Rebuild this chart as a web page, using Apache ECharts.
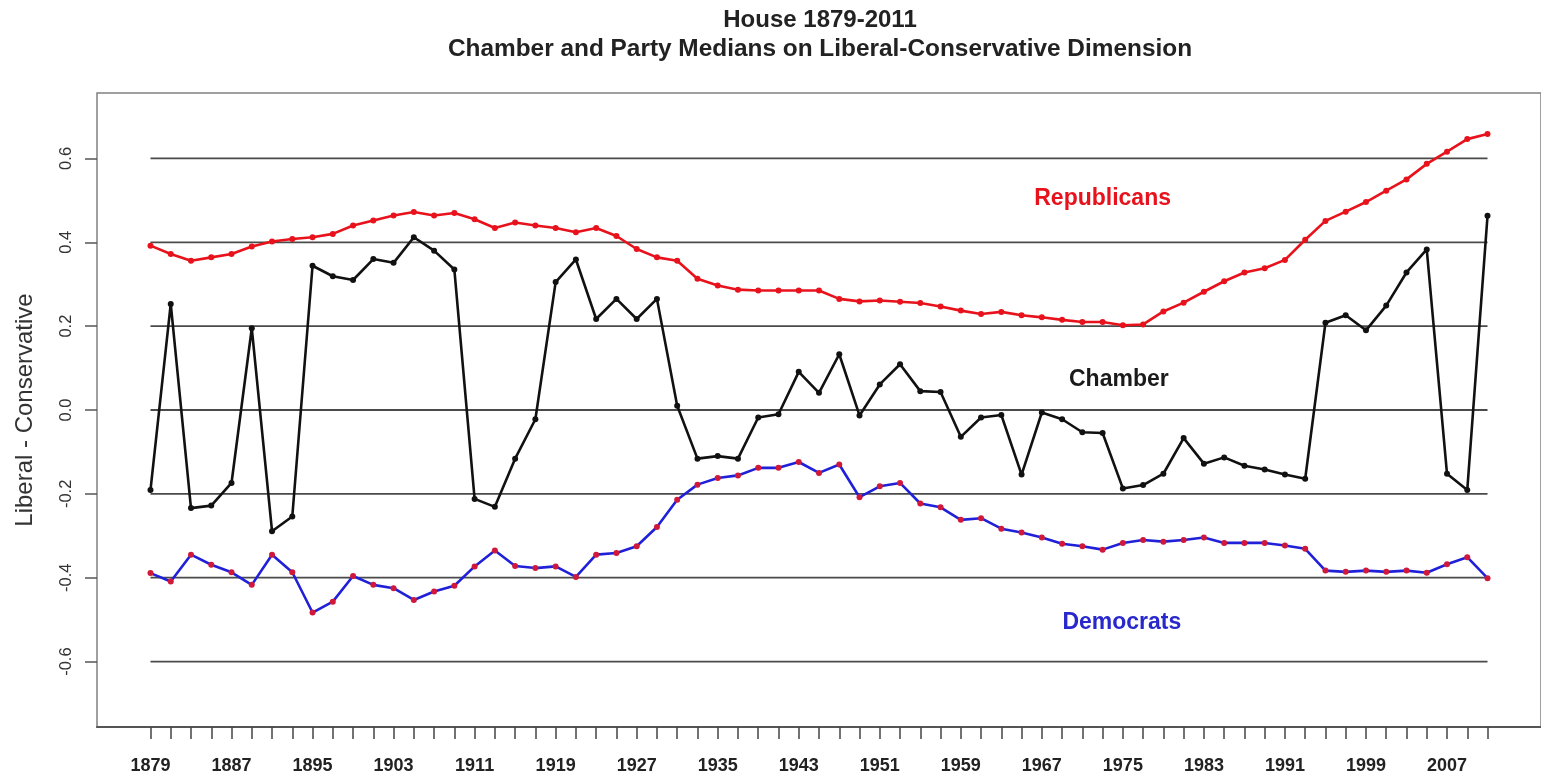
<!DOCTYPE html>
<html>
<head>
<meta charset="utf-8">
<script src="https://cdn.jsdelivr.net/npm/echarts@6/dist/echarts.min.js"></script>
<style>
html,body{margin:0;padding:0;background:#fff;}
#chart{width:1541px;height:777px;}
</style>
</head>
<body>
<div id="chart"></div>
<script>
// ---- Data ----
const years = [1879,1881,1883,1885,1887,1889,1891,1893,1895,1897,1899,1901,1903,1905,1907,1909,1911,1913,1915,1917,1919,1921,
  1923,1925,1927,1929,1931,1933,1935,1937,1939,1941,1943,1945,1947,1949,1951,1953,1955,1957,1959,1961,1963,
  1965,1967,1969,1971,1973,1975,1977,1979,1981,1983,1985,1987,1989,1991,1993,1995,1997,1999,2001,2003,2005,2007,2009,2011];

const chamber = [-0.191,0.253,-0.234,-0.228,-0.174,0.195,-0.289,-0.254,0.344,0.319,0.310,0.360,0.351,0.412,0.380,0.335,-0.212,-0.231,-0.116,-0.022,0.305,0.359,
  0.217,0.265,0.217,0.265,0.010,-0.116,-0.110,-0.116,-0.018,-0.010,0.091,0.041,0.133,-0.013,0.061,0.109,0.045,0.043,-0.064,-0.018,-0.012,
  -0.154,-0.006,-0.022,-0.053,-0.055,-0.187,-0.179,-0.152,-0.067,-0.128,-0.113,-0.133,-0.142,-0.154,-0.164,0.208,0.226,0.190,0.249,0.328,0.383,-0.152,-0.191,0.463];

const republicans = [0.392,0.372,0.356,0.364,0.372,0.390,0.402,0.408,0.412,0.420,0.440,0.452,0.464,0.472,0.464,0.470,0.455,0.434,0.447,0.440,0.434,0.424,
  0.434,0.415,0.384,0.364,0.356,0.313,0.297,0.287,0.285,0.285,0.285,0.285,0.265,0.259,0.261,0.258,0.255,0.247,0.237,0.229,0.234,
  0.226,0.221,0.215,0.210,0.210,0.202,0.204,0.235,0.256,0.282,0.307,0.328,0.338,0.358,0.406,0.451,0.473,0.496,0.523,0.550,0.587,0.616,0.646,0.658];

const democrats = [-0.389,-0.409,-0.345,-0.369,-0.387,-0.417,-0.345,-0.387,-0.483,-0.457,-0.396,-0.417,-0.425,-0.453,-0.433,-0.419,-0.373,-0.335,-0.372,-0.377,-0.373,-0.398,
  -0.345,-0.341,-0.325,-0.279,-0.214,-0.178,-0.162,-0.156,-0.138,-0.138,-0.124,-0.150,-0.130,-0.208,-0.182,-0.174,-0.223,-0.232,-0.262,-0.258,-0.283,
  -0.292,-0.304,-0.319,-0.325,-0.333,-0.317,-0.310,-0.314,-0.310,-0.304,-0.317,-0.317,-0.317,-0.323,-0.331,-0.383,-0.386,-0.383,-0.386,-0.383,-0.388,-0.368,-0.351,-0.401];

const xTickLabels = [1879,1887,1895,1903,1911,1919,1927,1935,1943,1951,1959,1967,1975,1983,1991,1999,2007];
const yTickValues = [-0.6,-0.4,-0.2,0,0.2,0.4,0.6];
const refLineValues = [-0.6,-0.4,-0.2,0,0.2,0.4,0.6];

const titleLine1 = 'House 1879-2011';
const titleLine2 = 'Chamber and Party Medians on Liberal-Conservative Dimension';
const yAxisTitle = 'Liberal - Conservative';

const seriesLabels = [
  {name: 'Republicans', year: 1973, value: 0.504},
  {name: 'Chamber', year: 1974.6, value: 0.073},
  {name: 'Democrats', year: 1974.9, value: -0.507}
];

// ---- Chart ----
const FONT = '"Liberation Sans", Arial, sans-serif';
const RED = '#e8121c';
const BLUE = '#2020d8';
const BLACK = '#111111';

const toPairs = arr => years.map((y, i) => [y, arr[i]]);

const refSeries = refLineValues.map(v => ({
  type: 'line',
  data: [[years[0], v], [years[years.length - 1], v]],
  symbol: 'none',
  silent: true,
  z: 1,
  lineStyle: {color: '#4a4a4a', width: 1.8},
  animation: false
}));

function labelPoint(lbl, color) {
  return {
    symbol: 'circle',
    symbolSize: 0,
    silent: true,
    data: [{coord: [lbl.year, lbl.value]}],
    label: {
      show: true,
      position: 'inside',
      formatter: lbl.name,
      color: color,
      fontFamily: FONT,
      fontWeight: 'bold',
      fontSize: 23
    }
  };
}

const chart = echarts.init(document.getElementById('chart'));
chart.setOption({
  backgroundColor: '#ffffff',
  animation: false,
  title: [
    {text: titleLine1, left: 815, textAlign: 'center', top: 3,
     textStyle: {fontFamily: FONT, fontWeight: 'bold', fontSize: 24, color: '#222'}},
    {text: titleLine2, left: 815, textAlign: 'center', top: 32,
     textStyle: {fontFamily: FONT, fontWeight: 'bold', fontSize: 24.4, color: '#222'}}
  ],
  grid: {
    left: 97, top: 93, right: -3, bottom: 50,
    show: true, borderColor: '#808080', borderWidth: 1.5,
    containLabel: false
  },
  xAxis: {
    type: 'value',
    min: 1873.72, max: 2016.28,
    splitLine: {show: false},
    axisLine: {show: true, onZero: false, lineStyle: {color: '#555', width: 2}},
    axisTick: {show: true, length: 12, customValues: years, lineStyle: {color: '#444', width: 1.5}},
    axisLabel: {
      show: true, customValues: xTickLabels, margin: 30,
      fontFamily: FONT, fontWeight: 'bold', fontSize: 18, color: '#222',
      formatter: v => String(v)
    }
  },
  yAxis: {
    type: 'value',
    min: -0.756, max: 0.756,
    name: yAxisTitle,
    nameLocation: 'middle',
    nameGap: 60,
    nameRotate: 90,
    nameTextStyle: {fontFamily: FONT, fontSize: 24, color: '#333'},
    splitLine: {show: false},
    axisLine: {show: false},
    axisTick: {show: true, length: 12, customValues: yTickValues, lineStyle: {color: '#555', width: 1.5}},
    axisLabel: {
      show: true, customValues: yTickValues, rotate: 90, margin: 22,
      fontFamily: FONT, fontSize: 16.5, color: '#333',
      formatter: v => v.toFixed(1)
    }
  },
  series: [
    ...refSeries,
    {
      name: 'Chamber', type: 'line', z: 3,
      data: toPairs(chamber),
      symbol: 'circle', symbolSize: 6,
      itemStyle: {color: BLACK},
      lineStyle: {color: BLACK, width: 2.6},
      markPoint: labelPoint(seriesLabels[1], '#1a1a1a')
    },
    {
      name: 'Republicans', type: 'line', z: 3,
      data: toPairs(republicans),
      symbol: 'circle', symbolSize: 6,
      itemStyle: {color: RED},
      lineStyle: {color: RED, width: 2.6},
      markPoint: labelPoint(seriesLabels[0], RED)
    },
    {
      name: 'Democrats', type: 'line', z: 3,
      data: toPairs(democrats),
      symbol: 'circle', symbolSize: 6,
      itemStyle: {color: '#d0183a'},
      lineStyle: {color: BLUE, width: 2.6},
      markPoint: labelPoint(seriesLabels[2], '#2828cc')
    }
  ]
});
</script>
</body>
</html>
